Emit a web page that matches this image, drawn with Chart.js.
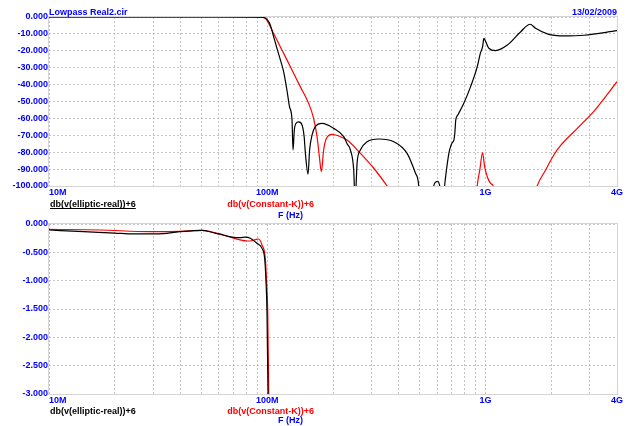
<!DOCTYPE html>
<html>
<head>
<meta charset="utf-8">
<script src="https://cdn.jsdelivr.net/npm/chart.js@4/dist/chart.umd.min.js"></script>
<style>
  body { margin: 0; background: #fff; }
  #wrap { position: relative; width: 631px; height: 426px; overflow: hidden; }
  canvas { position: absolute; left: 0; }
  #top { top: 0; }
  #bottom { top: 212px; }
</style>
</head>
<body>
<div id="wrap">
  <canvas id="top" width="631" height="222"></canvas>
  <canvas id="bottom" width="631" height="214"></canvas>
</div>
<script>
// frecuencias en MHz, valores en dB
const gridFreqs = [10, 20, 30, 40, 50, 60, 70, 80, 90, 100, 200, 300, 400, 500, 600, 700, 800, 900, 1000, 2000, 3000, 4000];
const xTickValues = [10, 100, 1000, 4000];
const xTickLabels = ['10M', '100M', '1G', '4G'];

// panel superior
const topEllipticFreq = [10, 60, 90, 96, 99.7, 103.2, 106.9, 110.7, 114.8, 118.8, 123, 126.4, 129.8, 131.2, 133, 135.4, 139.3, 144.3, 147.5, 149.5,
  153.7, 156.3, 160.4, 166, 178.2, 201.5, 224, 232, 240.3, 248.8, 252.6, 257.8, 267, 286.6, 324, 379.7, 437, 477.5, 494, 500,
  570, 579, 590, 604, 614, 622, 630, 645, 649, 662, 679, 691, 703, 716, 723, 730, 746, 795, 854, 916,
  946, 969, 982, 1002, 1035, 1111, 1258, 1449, 1600, 1695, 1918, 2287, 2826, 4000];
const topEllipticDb = [0, 0, -0.05, -0.3, -1.4, -4.7, -11.6, -18.5, -25.4, -32.3, -43.2, -53, -61, -78.7, -66.9, -62.9, -62.1, -63.9, -70.8, -80.7,
  -93, -78.7, -69.8, -64.9, -63, -65.9, -70.8, -75, -78.7, -90.5, -110, -86.6, -78.7, -73.8, -72.2, -73.8, -80.7, -92.5, -100, -115,
  -115, -100, -97.8, -97.2, -99, -103, -115, -104, -100, -90.5, -80.7, -76.7, -74.4, -72.8, -68.8, -61, -58, -51, -41.2, -29.4,
  -21.5, -17.6, -12.6, -14.6, -18.5, -19.9, -16.6, -8.7, -4.3, -6.7, -10, -11.2, -10.8, -8.1];

const topConstKFreq = [10, 80, 92.8, 97.9, 101.4, 105, 110.7, 118.8, 129.8, 141.6, 154.6, 163, 169, 173.2, 175.6, 177, 181.2, 186.7, 198.2, 212.4,
  232, 267, 307.5, 354, 400, 900, 916, 941, 969, 990, 1018, 1054, 1084, 1150, 1600, 1723, 1884, 2057, 2208, 2632, 3148, 4000];
const topConstKDb = [0, 0, -0.05, -0.8, -3.7, -7.7, -13.6, -21.5, -31.4, -41.2, -51, -60, -70.8, -82.6, -89.5, -91.5, -78.7, -71.8, -69.4, -70.4,
  -72.8, -80.7, -89.5, -100, -110, -115, -100, -90.5, -80.3, -88.6, -94.5, -98.4, -100, -115, -115, -100, -90.5, -81.5, -76, -65.9, -55.5, -38.3];

// panel inferior (zoom de la banda de paso)
const botEllipticFreq = [10, 14.4, 20, 24.4, 29.1, 34.7, 39.9, 45, 50.2, 56.7, 60.9, 65, 70, 75, 79.3, 83.6, 89.7, 94.6, 97.2, 98.6, 99.7, 100.8, 103];
const botEllipticDb = [-0.106, -0.135, -0.16, -0.176, -0.176, -0.165, -0.135, -0.12, -0.112, -0.154, -0.18, -0.21, -0.235, -0.24, -0.23, -0.25, -0.34, -0.43, -0.6, -0.99, -1.57, -3.0, -3.6];

const botConstKFreq = [10, 17.1, 29.1, 40, 50.2, 58.8, 65, 70, 75, 80.7, 85, 89, 91.2, 94.6, 97.9, 98.9, 100.5, 101.6, 103.5];
const botConstKDb = [-0.094, -0.106, -0.135, -0.13, -0.112, -0.165, -0.21, -0.25, -0.28, -0.30, -0.295, -0.27, -0.265, -0.37, -0.6, -0.9, -1.6, -3.0, -3.6];

const BLUE = '#0000ff';
const FONT = 'bold 9px Arial, "Liberation Sans", sans-serif';

const toPoints = (fs, vs) => fs.map((f, i) => ({ x: f, y: vs[i] }));

// marco, etiquetas del eje x y textos sueltos
const decorPlugin = {
  id: 'decor',
  beforeDatasetsDraw(chart) {
    const { ctx, chartArea: a } = chart;
    ctx.save();
    ctx.strokeStyle = '#d4d4d4';
    ctx.lineWidth = 1;
    ctx.strokeRect(Math.round(a.left) - 0.5, Math.round(a.top) - 0.5, Math.round(a.right - a.left) + 1, Math.round(a.bottom - a.top) + 1);
    ctx.restore();
  },
  afterDraw(chart, args, opts) {
    const { ctx, chartArea: a, scales: { x } } = chart;
    ctx.save();
    ctx.font = FONT;
    ctx.textBaseline = 'alphabetic';
    ctx.fillStyle = BLUE;
    xTickValues.forEach((v, i) => {
      ctx.textAlign = i === 0 ? 'left' : 'center';
      ctx.fillText(xTickLabels[i], x.getPixelForValue(v), a.bottom + 9);
    });
    (opts.texts || []).forEach(t => {
      ctx.fillStyle = t.color;
      ctx.textAlign = t.align;
      ctx.fillText(t.text, t.x, t.y);
      if (t.underline) {
        const w = ctx.measureText(t.text).width;
        ctx.fillRect(t.x, t.y + 1, w, 1);
      }
    });
    ctx.restore();
  }
};

function makeChart(id, opts) {
  const canvas = document.getElementById(id);
  return new Chart(canvas, {
    type: 'line',
    data: {
      datasets: [
        { label: 'db(v(elliptic-real))+6', data: toPoints(opts.ellF, opts.ellDb), borderColor: '#000000' },
        { label: 'db(v(Constant-K))+6', data: toPoints(opts.ckF, opts.ckDb), borderColor: '#ff0000' }
      ]
    },
    options: {
      responsive: false,
      animation: false,
      devicePixelRatio: 1,
      elements: {
        point: { radius: 0 },
        line: { borderWidth: 1.2, cubicInterpolationMode: 'monotone', fill: false }
      },
      layout: { padding: { top: opts.padTop, right: 14, left: 0, bottom: 0 } },
      plugins: { legend: { display: false }, tooltip: { enabled: false }, decor: { texts: opts.texts } },
      scales: {
        x: {
          type: 'logarithmic',
          min: 10,
          max: 4000,
          afterBuildTicks: s => { s.ticks = gridFreqs.map(v => ({ value: v })); },
          afterFit: s => { s.height = opts.xHeight; },
          ticks: { display: false },
          grid: { color: '#c4c4c4', lineWidth: 1, drawTicks: false },
          border: { display: false, dash: [2, 2] }
        },
        y: {
          min: opts.yMin,
          max: 0,
          afterFit: s => { s.width = 49; },
          ticks: {
            stepSize: opts.yStep,
            padding: 1,
            color: BLUE,
            font: { family: 'Arial, "Liberation Sans", sans-serif', size: 9, weight: 'bold' },
            callback: v => v.toFixed(3)
          },
          grid: { color: '#c4c4c4', lineWidth: 1, drawTicks: false },
          border: { display: false, dash: [2, 2] }
        }
      }
    },
    plugins: [decorPlugin]
  });
}

makeChart('top', {
  ellF: topEllipticFreq, ellDb: topEllipticDb, ckF: topConstKFreq, ckDb: topConstKDb,
  yMin: -100, yStep: 10, padTop: 17, xHeight: 222 - 186,
  texts: [
    { text: 'Lowpass Real2.cir', x: 49, y: 14.5, align: 'left', color: BLUE },
    { text: '13/02/2009', x: 617, y: 14.5, align: 'right', color: BLUE },
    { text: 'db(v(elliptic-real))+6', x: 50, y: 207, align: 'left', color: '#000000', underline: true },
    { text: 'db(v(Constant-K))+6', x: 314, y: 207, align: 'right', color: '#ff0000' },
    { text: 'F (Hz)', x: 278, y: 218, align: 'left', color: BLUE }
  ]
});

makeChart('bottom', {
  ellF: botEllipticFreq, ellDb: botEllipticDb, ckF: botConstKFreq, ckDb: botConstKDb,
  yMin: -3, yStep: 0.5, padTop: 224 - 212, xHeight: 214 - (394 - 212),
  texts: [
    { text: 'db(v(elliptic-real))+6', x: 50, y: 414 - 212, align: 'left', color: '#000000' },
    { text: 'db(v(Constant-K))+6', x: 314, y: 414 - 212, align: 'right', color: '#ff0000' },
    { text: 'F (Hz)', x: 278, y: 423 - 212, align: 'left', color: BLUE }
  ]
});
</script>
</body>
</html>
